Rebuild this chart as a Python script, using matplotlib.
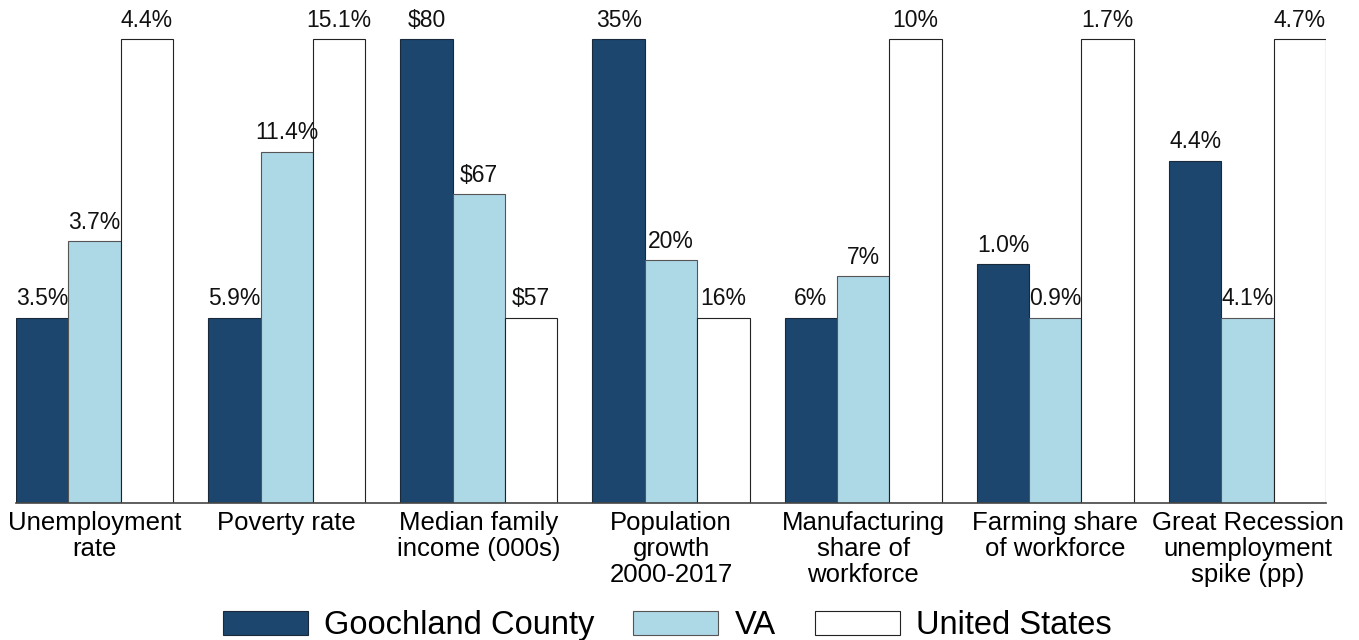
import numpy as np
import matplotlib
matplotlib.use('Agg')
import matplotlib.pyplot as plt

plt.rcParams['font.family'] = ['Liberation Sans', 'DejaVu Sans']

categories = ['Unemployment\nrate', 'Poverty rate', 'Median family\nincome (000s)',
              'Population\ngrowth\n2000-2017', 'Manufacturing\nshare of\nworkforce',
              'Farming share\nof workforce', 'Great Recession\nunemployment\nspike (pp)']
series = ['Goochland County', 'VA', 'United States']

# bar heights as drawn (index, smallest in group = 40, largest = 100)
goochland_h = [40, 40, 100, 100, 40, 51.5, 73.8]
va_h = [56.4, 75.8, 66.6, 52.4, 48.9, 40, 40]
us_h = [100, 100, 40, 40, 100, 100, 100]

goochland_lbl = ['3.5%', '5.9%', '$80', '35%', '6%', '1.0%', '4.4%']
va_lbl = ['3.7%', '11.4%', '$67', '20%', '7%', '0.9%', '4.1%']
us_lbl = ['4.4%', '15.1%', '$57', '16%', '10%', '1.7%', '4.7%']

colors = ['#1c466e', '#add8e6', '#ffffff']
edges = ['#1a2a3a', '#555555', '#222222']

fig = plt.figure(figsize=(13.59, 6.40), dpi=100)
ax = fig.add_axes([16/1359, 1 - 503/640, (1326-16)/1359, 503/640])

x = np.arange(len(categories))
w = 52.4 / 192.3
heights = [goochland_h, va_h, us_h]
labels = [goochland_lbl, va_lbl, us_lbl]
for i in range(3):
    bars = ax.bar(x + (i - 1) * w, heights[i], w, color=colors[i],
                  edgecolor=edges[i], linewidth=0.8, label=series[i])
    for b, t in zip(bars, labels[i]):
        ax.text(b.get_x() + b.get_width() / 2, b.get_height() + 1.6, t,
                ha='center', va='bottom', fontsize=16.5, color='#111111')

ax.set_xlim(-1.5 * w, len(categories) - 1 + 1.5 * w)
ax.set_ylim(0, 100 * 503 / 463.7)
ax.set_xticks(x)
ax.set_xticklabels(categories, fontsize=18.5, linespacing=1.1)
ax.tick_params(axis='x', length=0, pad=6)
ax.set_yticks([])
for s in ['top', 'right', 'left']:
    ax.spines[s].set_visible(False)
ax.spines['bottom'].set_color('#444444')
ax.spines['bottom'].set_linewidth(1.2)

fig.legend(loc='lower center', bbox_to_anchor=(0.491, -0.048), ncol=3, frameon=False,
           fontsize=23.5, handlelength=2.6, handleheight=0.78, handletextpad=0.5,
           columnspacing=1.2)

fig.savefig('out.png', dpi=100)
